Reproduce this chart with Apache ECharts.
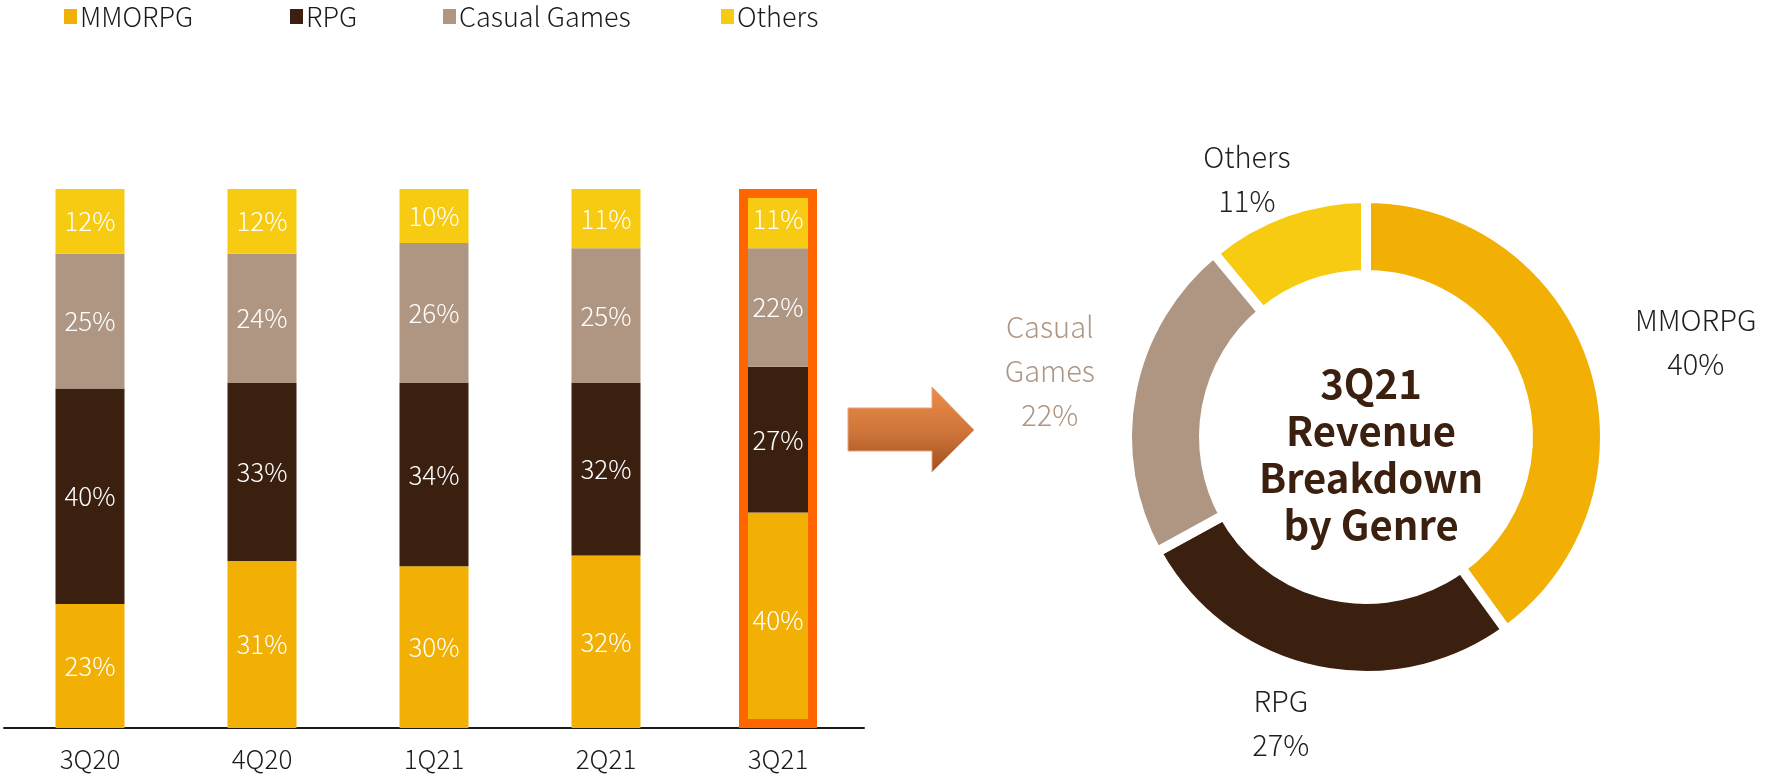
<!DOCTYPE html>
<html>
<head>
<meta charset="utf-8">
<script src="https://cdn.jsdelivr.net/npm/echarts@6/dist/echarts.min.js"></script>
<style>
  html, body { margin: 0; padding: 0; background: #ffffff; }
  #chart { width: 1767px; height: 776px; }
</style>
</head>
<body>
<div id="chart"></div>
<script>
// Quarterly revenue share by game genre (%)
const quarters = ['3Q20', '4Q20', '1Q21', '2Q21', '3Q21'];
const genres = ['MMORPG', 'RPG', 'Casual Games', 'Others'];
const mmorpg = [23, 31, 30, 32, 40];
const rpg = [40, 33, 34, 32, 27];
const casual = [25, 24, 26, 25, 22];
const others = [12, 12, 10, 11, 11];
// Latest quarter shown in the donut
const focusQuarter = '3Q21';

const colors = {
  'MMORPG': '#F2B004',
  'RPG': '#3B2010',
  'Casual Games': '#AF9683',
  'Others': '#F6CB12'
};
const FONT = "'Noto Sans CJK TC Light', 'Noto Sans CJK TC', 'Noto Sans', sans-serif";
const FONT_BOLD = "'Noto Sans CJK TC', 'Noto Sans', sans-serif";

const seriesValues = [mmorpg, rpg, casual, others];
const focusIdx = quarters.indexOf(focusQuarter);
const focusTotal = seriesValues.reduce((s, arr) => s + arr[focusIdx], 0);

// donut geometry
const pieCenter = [1366, 437];
const pieRadius = [162, 239];
// label placement around the ring: distance from centre and small angular nudge (deg)
const labelRadius = [343, 298, 323, 284];
const labelNudge = [2, 4, 1, -5];

const pieData = genres.map((g, i) => ({
  name: g,
  value: seriesValues[i][focusIdx],
  itemStyle: { color: colors[g] },
  label: { color: g === 'Casual Games' ? '#AF9683' : '#1f1f1f' }
}));

// mid-angle of each slice, clockwise from 12 o'clock
const pieTotal = pieData.reduce((s, d) => s + d.value, 0);
const midAngles = [];
(function () {
  let acc = 0;
  pieData.forEach(d => {
    midAngles.push((acc + d.value / 2) / pieTotal * 360);
    acc += d.value;
  });
})();

const barSeries = genres.map((g, i) => ({
  name: g,
  type: 'bar',
  stack: 'share',
  barWidth: 69,
  data: seriesValues[i],
  itemStyle: { color: colors[g] },
  label: {
    show: true,
    position: 'inside',
    formatter: '{c}%',
    color: '#ffffff',
    fontFamily: FONT,
    fontSize: 26
  }
}));

// outline around the latest quarter's bar (own hidden axis so it can be wider)
barSeries.push({
  name: 'focus',
  type: 'bar',
  xAxisIndex: 1,
  barWidth: 78,
  silent: true,
  z: 5,
  data: quarters.map((q, i) => (i === focusIdx ? focusTotal : null)),
  itemStyle: { color: 'rgba(0,0,0,0)', borderColor: '#FF6600', borderWidth: 9 },
  label: { show: false }
});

const legendLeft = [59, 285, 438, 716];
const legends = genres.map((g, i) => ({
  data: [g],
  left: legendLeft[i],
  top: -2,
  icon: 'rect',
  itemWidth: 13,
  itemHeight: 15,
  selectedMode: false,
  textStyle: { fontFamily: FONT, fontSize: 27, color: '#1a1a1a', padding: [0, 0, 0, -2] }
}));

const chart = echarts.init(document.getElementById('chart'), null, { renderer: 'canvas' });

chart.setOption({
  backgroundColor: '#ffffff',
  animation: false,
  legend: legends,
  grid: { left: 4, top: 189, width: 860, height: 539, containLabel: false },
  xAxis: [{
    type: 'category',
    data: quarters,
    axisLine: { lineStyle: { color: '#1a1a1a', width: 2 } },
    axisTick: { show: false },
    axisLabel: { color: '#1a1a1a', fontFamily: FONT, fontSize: 26, margin: 18 }
  }, {
    type: 'category',
    data: quarters,
    show: false
  }],
  yAxis: { type: 'value', min: 0, max: 100, show: false, splitLine: { show: false } },
  title: {
    text: focusQuarter + '\nRevenue\nBreakdown\nby Genre',
    left: pieCenter[0],
    top: pieCenter[1] - 82,
    textAlign: 'center',
    textStyle: {
      fontFamily: FONT_BOLD,
      fontWeight: 'bold',
      fontSize: 40,
      lineHeight: 47,
      color: '#3B2010'
    }
  },
  graphic: [{
    type: 'polygon',
    shape: {
      points: [[848, 408], [932, 408], [932, 387], [974, 430], [932, 472], [932, 451], [848, 451]]
    },
    style: {
      fill: new echarts.graphic.LinearGradient(0, 0, 0, 1, [
        { offset: 0, color: '#EE8C45' },
        { offset: 0.5, color: '#D0773C' },
        { offset: 1, color: '#A34E1C' }
      ]),
      stroke: '#E9A27A',
      lineWidth: 1
    }
  }],
  series: barSeries.concat([{
    name: 'Breakdown',
    type: 'pie',
    center: pieCenter,
    radius: pieRadius,
    startAngle: 90,
    clockwise: true,
    avoidLabelOverlap: false,
    itemStyle: { borderColor: '#ffffff', borderWidth: 10 },
    label: {
      show: true,
      position: 'outside',
      fontFamily: FONT,
      fontSize: 29,
      lineHeight: 44,
      formatter: p => p.name.replace(' ', '\n') + '\n' + p.value + '%'
    },
    labelLine: { show: false },
    labelLayout: function (p) {
      const i = p.dataIndex;
      const a = (midAngles[i] + labelNudge[i]) * Math.PI / 180;
      return {
        x: pieCenter[0] + labelRadius[i] * Math.sin(a),
        y: pieCenter[1] - labelRadius[i] * Math.cos(a),
        align: 'center',
        verticalAlign: 'middle'
      };
    },
    data: pieData
  }])
});
</script>
</body>
</html>
